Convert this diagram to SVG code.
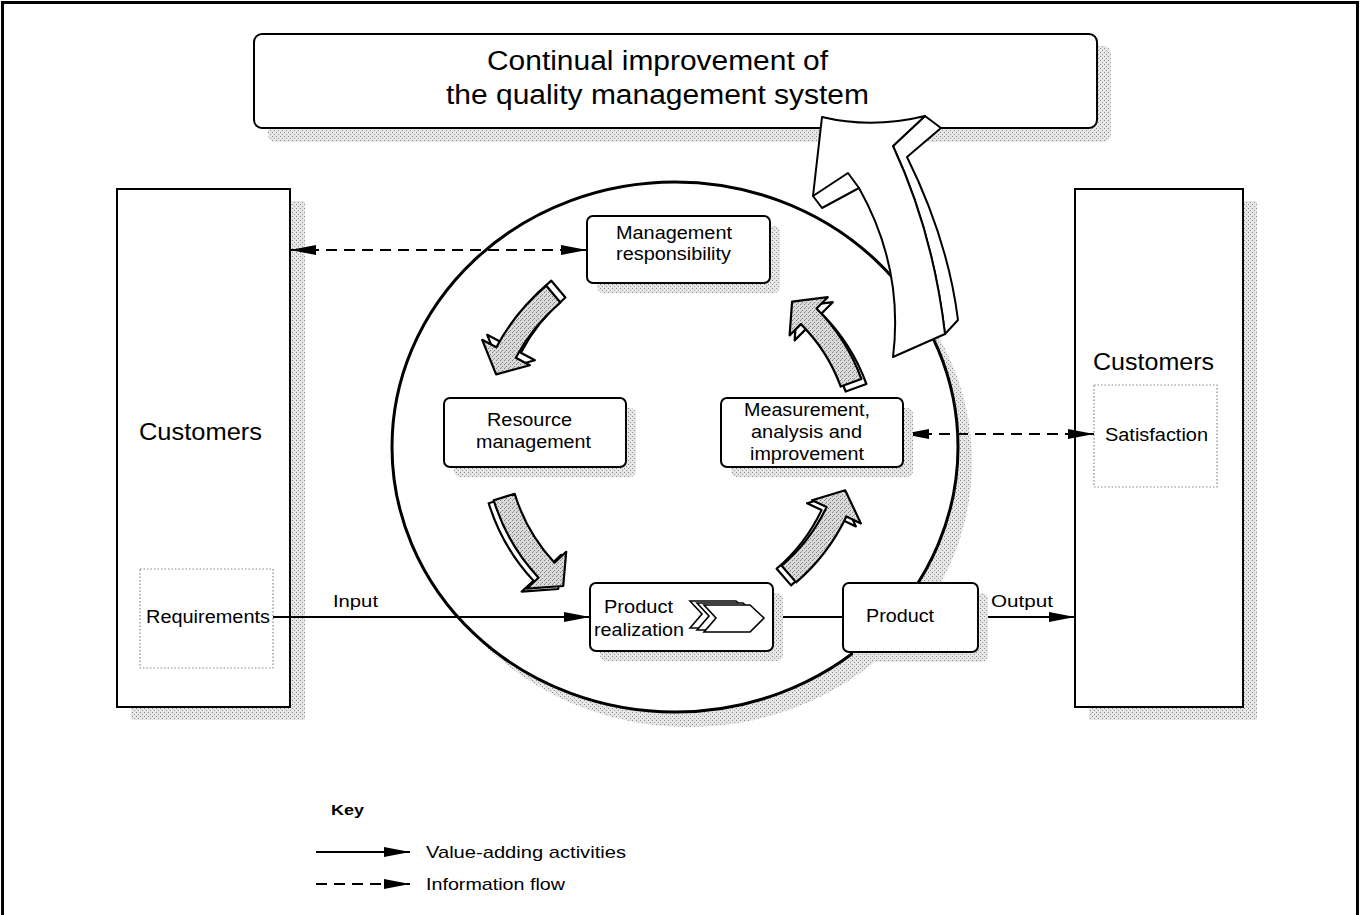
<svg xmlns="http://www.w3.org/2000/svg" width="1360" height="915" viewBox="0 0 1360 915">
<defs>
<pattern id="st" width="4" height="4" patternUnits="userSpaceOnUse"><rect width="4" height="4" fill="#e6e6e6"/><rect x="0" y="0" width="1" height="1" fill="#8a8a8a"/><rect x="2" y="2" width="1" height="1" fill="#9a9a9a"/></pattern>
<pattern id="st2" width="4" height="4" patternUnits="userSpaceOnUse"><rect width="4" height="4" fill="#dadada"/><rect x="0" y="0" width="1" height="1" fill="#808080"/><rect x="2" y="2" width="1" height="1" fill="#808080"/><rect x="1" y="3" width="1" height="1" fill="#a8a8a8"/></pattern>
<marker id="ah" viewBox="0 0 26 10" refX="26" refY="5" markerWidth="26" markerHeight="10" markerUnits="userSpaceOnUse" orient="auto-start-reverse"><path d="M0,0 L26,5 L0,10 Z" fill="#000"/></marker>
<style>
text{font-family:"Liberation Sans",Arial,Helvetica,sans-serif;fill:#000}
.t{font-size:27px}
.c{font-size:23px}
.l{font-size:17.5px}
.k{font-size:17px}
.box{fill:#fff;stroke:#000;stroke-width:2}
.sh{fill:url(#st);stroke:none}
.dot{fill:#fff;stroke:#888;stroke-width:1.2;stroke-dasharray:1.5 2}
.ln{fill:none;stroke:#000;stroke-width:1.8}
.dash{fill:none;stroke:#000;stroke-width:2;stroke-dasharray:11 7}
.af{fill:url(#st2);stroke:#000;stroke-width:2.2;stroke-linejoin:round}
.ab{fill:#fff;stroke:#000;stroke-width:2.2;stroke-linejoin:round}
.big{fill:#fff;stroke:#000;stroke-width:2;stroke-linejoin:round}
</style>
</defs>
<rect width="1360" height="915" fill="#fff"/>
<rect x="2.5" y="2.5" width="1355" height="940" fill="none" stroke="#000" stroke-width="3"/>

<g id="shadows">
<rect class="sh" x="268" y="46" width="843" height="96" rx="8"/>
<rect class="sh" x="131" y="201" width="174" height="519"/>
<rect class="sh" x="1089" y="201" width="168" height="519"/>
<ellipse class="sh" cx="689" cy="462" rx="283" ry="265"/>
</g>

<g id="customers-left">
<rect class="box" x="117" y="189" width="173" height="518"/>
<text class="c" x="139" y="440" textLength="123" lengthAdjust="spacingAndGlyphs">Customers</text>
<g id="requirements">
<rect class="dot" x="140" y="569" width="133" height="99"/>
<text class="l" x="146" y="623" textLength="124" lengthAdjust="spacingAndGlyphs">Requirements</text>
</g>
</g>

<g id="customers-right">
<rect class="box" x="1075" y="189" width="168" height="518"/>
<text class="c" x="1093" y="370" textLength="121" lengthAdjust="spacingAndGlyphs">Customers</text>
<g id="satisfaction">
<rect class="dot" x="1094" y="385" width="123" height="102"/>
<text class="l" x="1105" y="441" textLength="103" lengthAdjust="spacingAndGlyphs">Satisfaction</text>
</g>
</g>

<g id="qms-circle">
<ellipse cx="675" cy="447" rx="283" ry="265" fill="#fff" stroke="#000" stroke-width="3"/>
</g>

<g id="continual-improvement">
<rect class="box" x="254" y="34" width="843" height="94" rx="8"/>
<text class="t" x="487" y="70" textLength="341" lengthAdjust="spacingAndGlyphs">Continual improvement of</text>
<text class="t" x="446" y="104" textLength="423" lengthAdjust="spacingAndGlyphs">the quality management system</text>
</g>

<g id="connectors">
<path class="ln" d="M273,617 L590,617" marker-end="url(#ah)"/>
<path class="ln" d="M773,617 L843,617"/>
<path class="ln" d="M978,617 L1075,617" marker-end="url(#ah)"/>
<path class="dash" d="M290,250 L587,250" marker-start="url(#ah)" marker-end="url(#ah)"/>
<path class="dash" d="M903,434 L1094,434" marker-start="url(#ah)" marker-end="url(#ah)"/>
<text class="k" x="333" y="607" textLength="45" lengthAdjust="spacingAndGlyphs">Input</text>
<text class="k" x="991" y="607" textLength="62" lengthAdjust="spacingAndGlyphs">Output</text>
</g>

<g id="management-responsibility">
<rect class="sh" x="597" y="226" width="183" height="67" rx="6"/>
<rect class="box" x="587" y="216" width="183" height="67" rx="6"/>
<text class="l" x="616" y="239" textLength="116" lengthAdjust="spacingAndGlyphs">Management</text>
<text class="l" x="616" y="260" textLength="115" lengthAdjust="spacingAndGlyphs">responsibility</text>
</g>

<g id="resource-management">
<rect class="sh" x="454" y="408" width="182" height="69" rx="6"/>
<rect class="box" x="444" y="398" width="182" height="69" rx="6"/>
<text class="l" x="487" y="426" textLength="85" lengthAdjust="spacingAndGlyphs">Resource</text>
<text class="l" x="476" y="448" textLength="115" lengthAdjust="spacingAndGlyphs">management</text>
</g>

<g id="measurement">
<rect class="sh" x="731" y="408" width="182" height="69" rx="6"/>
<rect class="box" x="721" y="398" width="182" height="69" rx="6"/>
<text class="l" x="744" y="416" textLength="126" lengthAdjust="spacingAndGlyphs">Measurement,</text>
<text class="l" x="751" y="438" textLength="111" lengthAdjust="spacingAndGlyphs">analysis and</text>
<text class="l" x="750" y="460" textLength="114" lengthAdjust="spacingAndGlyphs">improvement</text>
</g>

<g id="product-realization">
<rect class="sh" x="600" y="593" width="183" height="68" rx="6"/>
<rect class="box" x="590" y="583" width="183" height="68" rx="6"/>
<text class="l" x="604" y="613" textLength="69" lengthAdjust="spacingAndGlyphs">Product</text>
<text class="l" x="594" y="636" textLength="90" lengthAdjust="spacingAndGlyphs">realization</text>
<g fill="#fff" stroke="#000" stroke-width="1.6" stroke-linejoin="miter">
<path d="M690,601 L736,601 L750,614 L736,628 L690,628 L702,614 Z"/>
<path d="M697,603 L743,603 L757,616 L743,630 L697,630 L709,616 Z"/>
<path d="M704,605 L750,605 L764,618 L750,632 L704,632 L716,618 Z"/>
</g>
</g>

<g id="product">
<rect class="sh" x="853" y="593" width="135" height="69" rx="6"/>
<rect class="box" x="843" y="583" width="135" height="69" rx="6"/>
<text class="l" x="866" y="622" textLength="68" lengthAdjust="spacingAndGlyphs">Product</text>
</g>

<g id="cycle-arrows">
<g transform="translate(5,-5)"><path class="ab" d="M546.3,285.7 A208,208 0 0,0 496.4,347.3 L482.2,339.8 L496.1,374.4 L529.9,365.2 L515.8,357.7 A186,186 0 0,1 560.4,302.5 Z"/></g>
<path class="af" d="M546.3,285.7 A208,208 0 0,0 496.4,347.3 L482.2,339.8 L496.1,374.4 L529.9,365.2 L515.8,357.7 A186,186 0 0,1 560.4,302.5 Z"/>

<g transform="translate(-5,3)"><path class="ab" d="M493.7,500.2 A199,199 0 0,0 538.5,577.7 L526.7,588.6 L563.2,586 L566.2,551.8 L554.5,562.7 A177,177 0 0,1 514.7,493.8 Z"/></g>
<path class="af" d="M493.7,500.2 A199,199 0 0,0 538.5,577.7 L526.7,588.6 L563.2,586 L566.2,551.8 L554.5,562.7 A177,177 0 0,1 514.7,493.8 Z"/>

<g transform="translate(-5,3)"><path class="ab" d="M796.1,582.4 A201,201 0 0,0 846.4,516.5 L860.9,523.4 L845.2,490.3 L812.1,500.2 L826.6,507.1 A179,179 0 0,1 781.7,565.7 Z"/></g>
<path class="af" d="M796.1,582.4 A201,201 0 0,0 846.4,516.5 L860.9,523.4 L845.2,490.3 L812.1,500.2 L826.6,507.1 A179,179 0 0,1 781.7,565.7 Z"/>

<g transform="translate(5,5)"><path class="ab" d="M861.4,379 A193,193 0 0,0 816.5,308.5 L827.8,297.2 L792.1,301.6 L789.6,335.4 L800.9,324.1 A171,171 0 0,1 840.7,386.5 Z"/></g>
<path class="af" d="M861.4,379 A193,193 0 0,0 816.5,308.5 L827.8,297.2 L792.1,301.6 L789.6,335.4 L800.9,324.1 A171,171 0 0,1 840.7,386.5 Z"/>
</g>

<g id="improvement-arrow">
<path class="big" d="M925,116 L941,128 L907,157 Q948,240 958,320 L945,334 Q933,232 893,146 Z"/>
<path class="big" d="M822,117 Q872,129 925,116 L893,146 Q933,232 945,334 L893,357 Q904,268 859,188 L813,196 Z"/>
<path class="big" d="M813,196 L848,173 L859,188 L822,208 Z"/>
</g>

<g id="key">
<text x="331" y="815" style="font-size:15px;font-weight:bold" textLength="33" lengthAdjust="spacingAndGlyphs">Key</text>
<path class="ln" d="M316,852 L410,852" marker-end="url(#ah)"/>
<path class="dash" d="M316,884 L410,884" stroke-dasharray="12 7" marker-end="url(#ah)"/>
<text class="k" x="426" y="858" textLength="200" lengthAdjust="spacingAndGlyphs">Value-adding activities</text>
<text class="k" x="426" y="890" textLength="139" lengthAdjust="spacingAndGlyphs">Information flow</text>
</g>
</svg>
